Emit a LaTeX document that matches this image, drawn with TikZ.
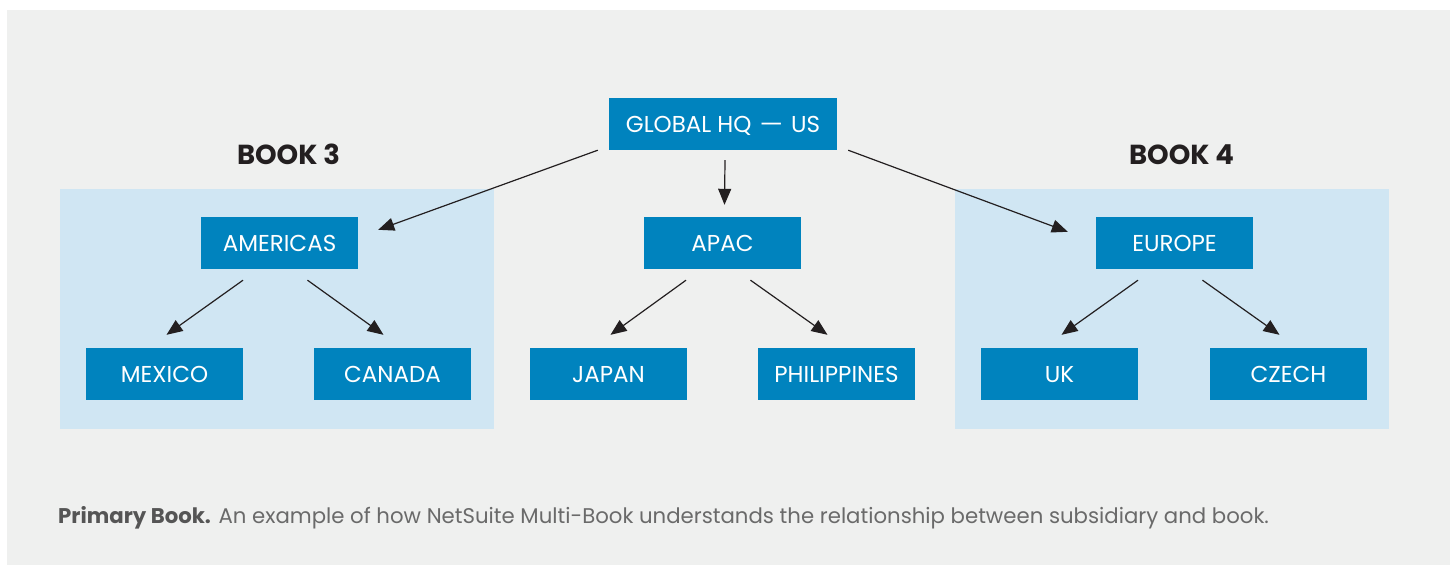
\documentclass[tikz,border=0pt]{standalone}
\usepackage{fontspec}
\usepackage{graphicx}
\setmainfont{Poppins}
\usetikzlibrary{arrows.meta}
\definecolor{panel}{HTML}{EFF0EF}
\definecolor{bookbg}{HTML}{D0E6F3}
\definecolor{boxblue}{HTML}{0083BE}
\definecolor{arrowc}{HTML}{231F20}
\definecolor{captb}{HTML}{555555}
\definecolor{captr}{HTML}{6A6A6A}
\tikzset{
  ent/.style={fill=boxblue, text=white, minimum width=157pt, minimum height=52pt, inner sep=0pt,
    text height=16pt, text depth=0pt, font=\fontsize{23}{26}\selectfont},
  bookregion/.style={fill=bookbg, draw=none},
  booklabel/.style={text=arrowc, font=\fontsize{27.5}{30}\selectfont\bfseries, inner sep=0pt},
  arr/.style={draw=arrowc, line width=1.2pt, -{Triangle[length=16pt,width=13pt]}}
}
\begin{document}
\begin{tikzpicture}[x=1pt,y=-1pt]
\useasboundingbox (0,0) rectangle (1450,566);
\fill[white] (0,0) rectangle (1450,566);
\fill[panel] (7,10) rectangle (1450,565);
% book regions
\fill[bookregion] (60,189) rectangle (494,429);
\fill[bookregion] (955,189) rectangle (1389,429);
\node[booklabel, anchor=base] (b3) at (288.5,164.5) {BOOK 3};
\node[booklabel, anchor=base] (b4) at (1181.5,164.5) {BOOK 4};
% nodes
\node[ent, minimum width=228pt] (glob) at (723,124) {GLOBAL HQ\hspace{0.32em}\scalebox{1.6}[1]{–}\hspace{0.32em}US};
\node[ent] (amer) at (279.5,243) {AMERICAS};
\node[ent] (apac) at (722.5,243) {APAC};
\node[ent] (euro) at (1174.5,243) {EUROPE};
\node[ent] (mex) at (164.5,374) {MEXICO};
\node[ent] (can) at (392.5,374) {CANADA};
\node[ent] (jap) at (608.5,374) {JAPAN};
\node[ent] (phi) at (836.5,374) {PHILIPPINES};
\node[ent] (uk) at (1059.5,374) {UK};
\node[ent] (cz) at (1288.5,374) {CZECH};
% arrows from HQ
\draw[arr] ([xshift=-11pt]glob.south west) -- ([xshift=20pt,yshift=-13pt]amer.north east);
\draw[arr] ([xshift=2pt,yshift=-10pt]glob.south) -- ([xshift=2pt,yshift=12pt]apac.north);
\draw[arr] ([xshift=11pt]glob.south east) -- ([xshift=-28pt,yshift=-15pt]euro.north west);
% sub arrows
\foreach \p/\l/\r in {amer/mex/can, apac/jap/phi, euro/uk/cz}{
  \draw[arr] ([xshift=-36.5pt,yshift=-11pt]\p.south) -- ([xshift=2pt,yshift=13pt]\l.north);
  \draw[arr] ([xshift=28pt,yshift=-11pt]\p.south) -- ([xshift=-9pt,yshift=13pt]\r.north);
}
% caption
\node[anchor=base west, inner sep=0pt, font=\fontsize{21.25}{25}\selectfont] (cap) at (58,523)
  {\textcolor{captb}{\bfseries Primary Book.} \textcolor{captr}{An example of how NetSuite Multi-Book understands the relationship between subsidiary and book.}};
\end{tikzpicture}
\end{document}
